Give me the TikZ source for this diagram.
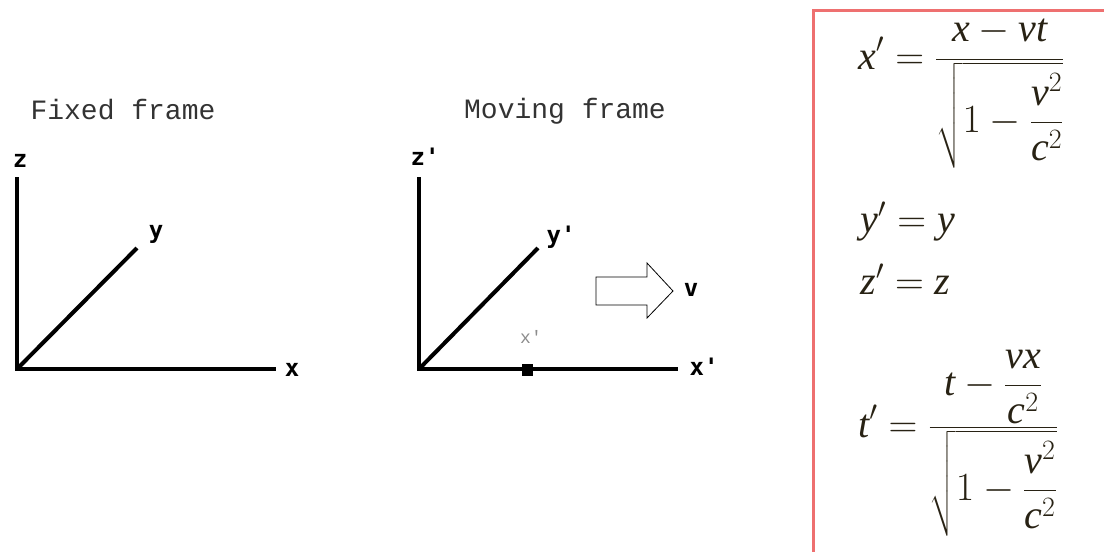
\RequirePackage{fix-cm}
\documentclass[tikz,border=0pt]{standalone}
\usepackage{amsmath}
\usepackage{fontspec}
\setmainfont{Liberation Serif}
\newfontfamily\pixfont{Liberation Mono}
\newfontfamily\labfont{DejaVu Sans Mono}
\DeclareSymbolFont{letters}{TU}{\rmdefault}{m}{it}
\usetikzlibrary{positioning}
\definecolor{eqbrown}{RGB}{40,34,20}
\definecolor{boxred}{RGB}{238,112,112}

\begin{document}
\begin{tikzpicture}[
  x=1pt,y=-1pt,
  axis/.style={line width=4pt},
  title/.style={font=\pixfont\fontsize{28}{30}\selectfont, text=black!80, inner sep=0pt},
  lbl/.style={font=\labfont\bfseries\fontsize{24}{28}\selectfont, inner sep=0pt},
  tick/.style={font=\pixfont\fontsize{18}{20}\selectfont, text=black!45, inner sep=0pt},
  eqn/.style={font=\fontsize{40}{44}\selectfont, text=eqbrown, inner sep=0pt, anchor=base west},
  hollow/.style={draw, line width=0.8pt, fill=white}
]
\useasboundingbox (0,0) rectangle (1104,552);

% fixed frame
\node[title] (ftitle) at (123,110) {Fixed frame};
\coordinate (fo) at (17,369);
\coordinate (fz) at (17,177);
\coordinate (fy) at (137,248);
\coordinate (fx) at (276,369);
\draw[axis] (fz) -- (fo) -- (fx);
\draw[axis] (fo) -- (fy);
\node[lbl] (fzl) at (20,161) {z};
\node[lbl] (fyl) at (156,234) {y};
\node[lbl] (fxl) at (292,370) {x};

% moving frame
\node[title] (mtitle) at (565,111) {Moving frame};
\coordinate (mo) at (419,369);
\coordinate (mz) at (419,177);
\coordinate (my) at (538,248);
\coordinate (mx) at (678,369);
\draw[axis] (mz) -- (mo) -- (mx);
\draw[axis] (mo) -- (my);
\node[lbl] (mzl) at (425,157) {z'};
\node[lbl] (myl) at (561,237) {y'};
\node[lbl] (mxl) at (704,367) {x'};
\node[fill=black, minimum width=11pt, minimum height=12pt, inner sep=0pt] (pt) at (527,370) {};
\node[tick] (ptl) at (531,337) {x'};

% velocity arrow
\draw[hollow] (596,277) -- (647,277) -- (647,263) -- (673,291) -- (647,318) -- (647,305) -- (596,305) -- cycle;
\node[lbl] (vl) at (691,290) {v};

% transformation box
\draw[boxred, line width=3pt] (813,560) -- (813,10) -- (1110,10);
\node[eqn] (eqx) at (858,69) {$\displaystyle x' = \frac{x - vt}{\sqrt{1-\dfrac{v^2}{c^2}}}$};
\node[eqn] (eqy) at (860,232) {$y' = y$};
\node[eqn] (eqz) at (860,294) {$z' = z$};
\node[eqn] (eqt) at (858,437) {$\displaystyle t' = \frac{t-\dfrac{vx}{c^2}}{\sqrt{1-\dfrac{v^2}{c^2}}}$};
\end{tikzpicture}
\end{document}
